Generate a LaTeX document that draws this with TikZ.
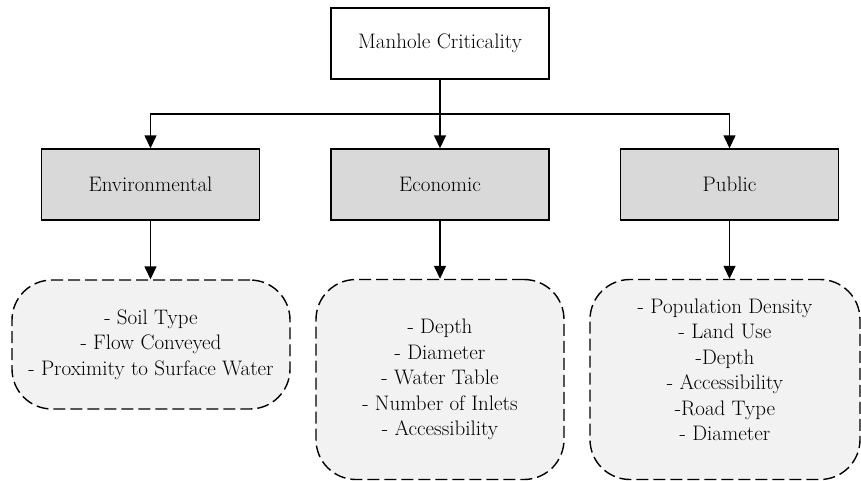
\documentclass[tikz,border=0pt]{standalone}
\usetikzlibrary{arrows.meta}
\definecolor{catgray}{HTML}{D9D9D9}
\definecolor{listgray}{HTML}{F2F2F2}
\begin{document}
\begin{tikzpicture}[x=1pt,y=-1pt,
  every node/.style={font=\rmfamily\fontsize{21}{25.5}\selectfont},
  topbox/.style={draw, line width=1.4pt, fill=white, minimum width=218pt,
    minimum height=71pt, inner sep=0pt},
  catbox/.style={topbox, fill=catgray},
  listbox/.style={draw, dash pattern=on 12pt off 5pt, line width=1.4pt,
    fill=listgray, rounded corners=40pt, inner sep=0pt, align=center},
  listtext/.style={align=center, inner sep=0pt},
  trunk/.style={line width=1.4pt},
  link/.style={line width=1.4pt, -{Triangle[length=13pt,width=12pt]}}
]
\useasboundingbox (0,0) rectangle (861,480);

% root and the three criteria
\node[topbox] (root) at (440,43.5) {Manhole Criticality};
\node[catbox] (env) at (150.5,184.5) {Environmental};
\node[catbox] (eco) at (440,184.5) {Economic};
\node[catbox] (pub) at (729.5,184.5) {Public};

% factor lists
\node[listbox, minimum width=278pt, minimum height=129pt] (envl) at (151,344.5)
  {- Soil Type\\- Flow Conveyed\\- Proximity to Surface Water};
\node[listbox, minimum width=248pt, minimum height=200pt] (ecol) at (440,379.5)
  {- Depth\\- Diameter\\- Water Table\\- Number of Inlets\\- Accessibility};
\node[listbox, minimum width=270pt, minimum height=200pt] (publ) at (725,379.5) {};
\node[listtext] (publt) at (725,370)
  {- Population Density\\- Land Use\\-Depth\\- Accessibility\\-Road Type\\- Diameter};

% connectors
\coordinate (split) at (440,114);
\draw[trunk] (root.south) -- (split);
\draw[link] (split) -| (env.north);
\draw[link] (split) -- (eco.north);
\draw[link] (split) -| (pub.north);
\draw[link] (env.south) -- (env.south |- envl.north);
\draw[link] (eco.south) -- (eco.south |- ecol.north);
\draw[link] (pub.south) -- (pub.south |- publ.north);
\end{tikzpicture}
\end{document}
